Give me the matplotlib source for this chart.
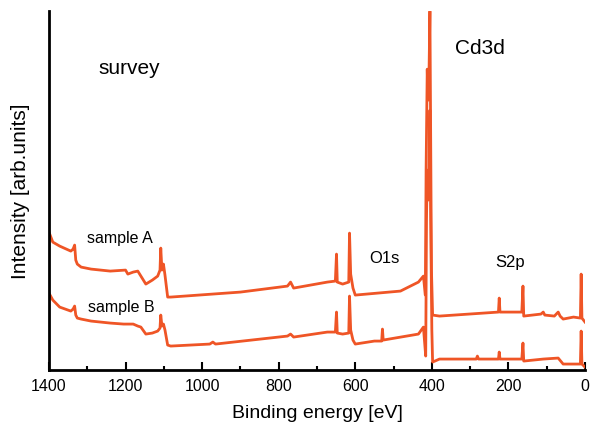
import numpy as np
import matplotlib
matplotlib.use('Agg')
import matplotlib.pyplot as plt
from matplotlib.ticker import MultipleLocator

plt.rcParams['font.family'] = ['Liberation Sans', 'DejaVu Sans']

# binding energy (eV) / intensity (arb.)
energy_a = [1400, 1390, 1372, 1343, 1337, 1333, 1330, 1326, 1316, 1290, 1240, 1200, 1194,
            1180, 1168, 1147, 1130, 1116, 1110, 1108, 1105, 1101, 1097, 1090, 1082,
            900, 777, 769, 761, 673, 652, 649, 647, 633, 617, 615, 612, 606, 600, 482, 435,
            422, 417, 415, 412, 410, 408, 405, 403, 401, 398, 380, 226, 224, 222, 165, 162,
            160, 115, 109, 105, 80, 70, 65, 57, 30, 12, 10, 8, 0]
inten_a = [138, 128, 124, 119, 121, 125, 110, 106, 103, 101, 99, 100, 96,
           98, 99, 86, 90, 94, 100, 122, 100, 106, 95, 73, 73,
           78, 84, 88, 82, 88, 89, 116, 88, 86, 88, 137, 96, 82, 75, 79, 88,
           94, 75, 200, 301, 270, 280, 359, 230, 100, 55, 54, 58, 72, 58, 58, 84,
           54, 56, 58, 55, 54, 58, 54, 51, 53, 52, 96, 52, 48]

energy_b = [1400, 1390, 1372, 1343, 1337, 1333, 1330, 1326, 1316, 1290, 1240, 1205, 1180,
            1168, 1160, 1147, 1130, 1116, 1110, 1108, 1105, 1101, 1097, 1090, 1082,
            980, 972, 965, 777, 769, 761, 673, 652, 649, 647, 633, 617, 615, 612, 606, 600,
            550, 531, 529, 527, 435, 422, 416, 414, 412, 410, 408, 405, 403, 400, 398, 380,
            284, 281, 278, 226, 224, 222, 165, 162, 160, 109, 70, 57, 12, 10, 8, 0]
inten_b = [77, 70, 63, 59, 61, 64, 55, 52, 51, 49, 47, 46, 46,
           44, 43, 36, 37, 39, 42, 55, 44, 46, 40, 25, 24,
           26, 28, 26, 34, 36, 33, 38, 38, 58, 37, 36, 37, 74, 40, 30, 26,
           29, 29, 41, 30, 36, 43, 14, 150, 200, 170, 180, 260, 150, 40, 8, 11,
           11, 14, 11, 11, 18, 11, 11, 27, 9, 11, 12, 6, 6, 39, 6, 3]

line_color = '#EF5526'

fig = plt.figure(figsize=(5.9, 4.35), dpi=100)
ax = fig.add_axes([0.083, 0.147, 0.9085, 0.825])

ax.plot(energy_a, inten_a, color=line_color, lw=2)
ax.plot(energy_b, inten_b, color=line_color, lw=2)

ax.set_xlim(1400, 0)
ax.set_ylim(0, 359)

ax.spines['top'].set_visible(False)
ax.spines['right'].set_visible(False)
ax.spines['left'].set_linewidth(2)
ax.spines['bottom'].set_linewidth(2)
ax.set_yticks([])
ax.xaxis.set_major_locator(MultipleLocator(200))
ax.xaxis.set_minor_locator(MultipleLocator(100))
ax.tick_params(axis='x', which='major', direction='in', length=6, width=1.5,
               labelsize=11.5, pad=6)
ax.tick_params(axis='x', which='minor', direction='in', length=3, width=1.5)

ax.set_xlabel('Binding energy [eV]', fontsize=14, labelpad=8)
ax.set_ylabel('Intensity [arb.units]', fontsize=15, labelpad=14)

ax.text(1191, 303, 'survey', fontsize=15, ha='center', va='center')
ax.text(274, 323, 'Cd3d', fontsize=15, ha='center', va='center')
ax.text(1215, 133, 'sample A', fontsize=11.5, ha='center', va='center')
ax.text(1210, 64, 'sample B', fontsize=11.5, ha='center', va='center')
ax.text(524, 113, 'O1s', fontsize=12, ha='center', va='center')
ax.text(196, 109, 'S2p', fontsize=12, ha='center', va='center')

fig.savefig('out.png', dpi=100)
